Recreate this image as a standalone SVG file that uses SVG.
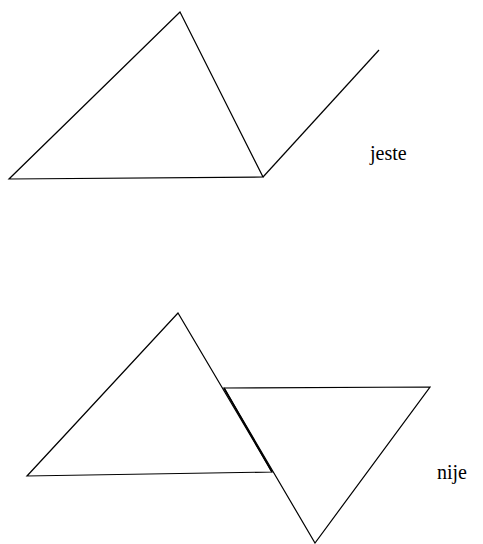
<svg xmlns="http://www.w3.org/2000/svg" width="483" height="544" viewBox="0 0 483 544">
<style>
.ln{fill:none;stroke:#000;stroke-width:1.2;stroke-linejoin:miter}
</style>
<rect width="483" height="544" fill="#fff"/>
<g id="top-figure">
<polygon class="ln" points="180,12 9,179 263,177"/>
<line class="ln" x1="263" y1="177" x2="379" y2="50"/>
</g>
<g id="bottom-figure">
<polygon class="ln" points="178,313 27,476 272,472"/>
<polygon class="ln" points="224,388 430,387 315,543"/>
<line class="ln" x1="224" y1="388" x2="272" y2="472" style="stroke-width:1.6"/>
</g>
<g font-family="Liberation Serif, Times New Roman, serif" font-size="20" fill="#000">
<text x="370" y="160">jeste</text>
<text x="437" y="479">nije</text>
</g>
</svg>
